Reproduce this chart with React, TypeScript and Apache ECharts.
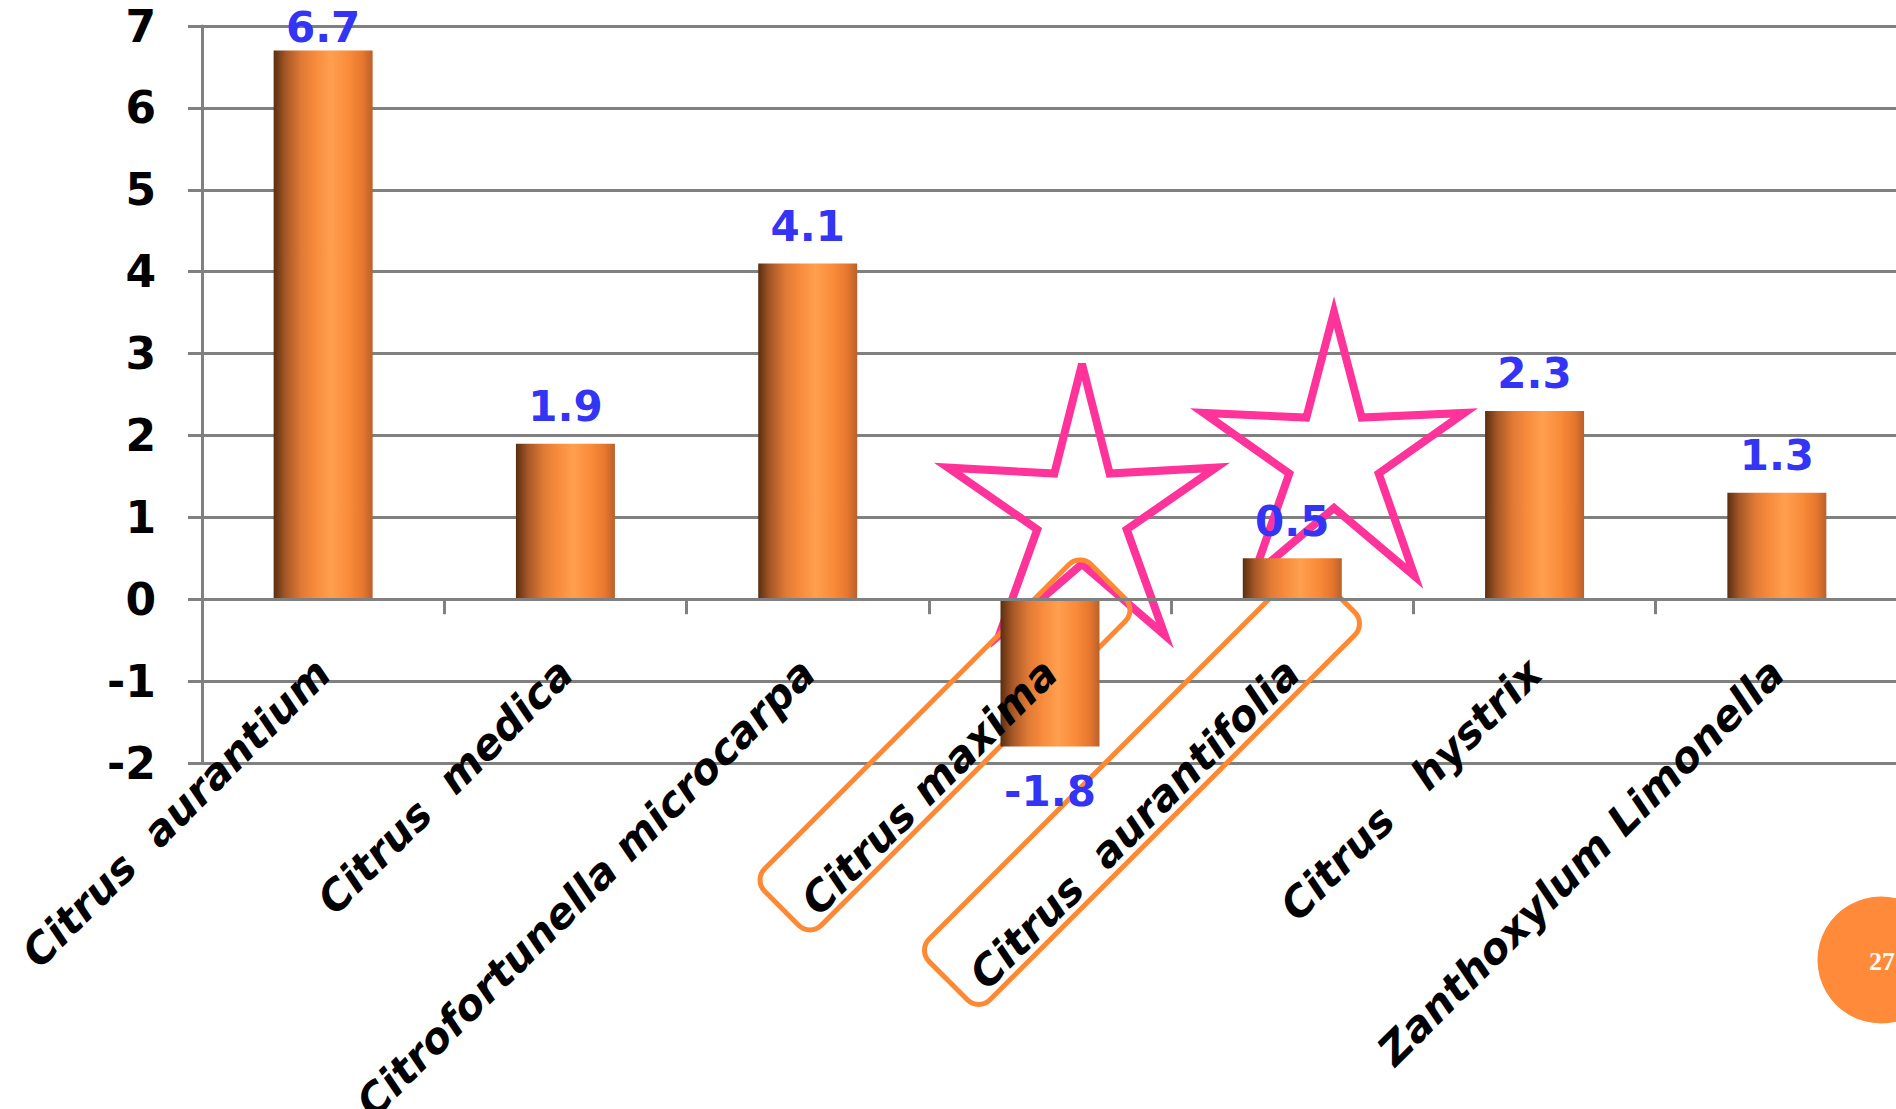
import React, { useEffect, useRef } from "react";
import * as echarts from "echarts";

const categories = [
  "Citrus  aurantium",
  "Citrus  medica",
  "Citrofortunella microcarpa",
  "Citrus maxima",
  "Citrus  aurantifolia",
  "Citrus   hystrix",
  "Zanthoxylum Limonella",
];
const values = [6.7, 1.9, 4.1, -1.8, 0.5, 2.3, 1.3];
const yMin = -2;
const yMax = 7;
const yStep = 1;
const pageNumber = "27";

function starPoints(cx: number, cy: number, R: number, r: number, sx: number) {
  const pts: number[][] = [];
  for (let k = 0; k < 10; k++) {
    const a = ((-90 + k * 36) * Math.PI) / 180;
    const rad = k % 2 === 0 ? R : r;
    pts.push([cx + sx * rad * Math.cos(a), cy + rad * Math.sin(a)]);
  }
  return pts;
}

export default function App() {
  const ref = useRef<HTMLDivElement>(null);
  useEffect(() => {
    const chart = echarts.init(ref.current as HTMLDivElement, null, { renderer: "svg" });
    const barGradient = new echarts.graphic.LinearGradient(0, 0, 1, 0, [
      { offset: 0, color: "#5a2e10" },
      { offset: 0.12, color: "#a55727" },
      { offset: 0.28, color: "#e07a35" },
      { offset: 0.42, color: "#f78b3c" },
      { offset: 0.58, color: "#ff9f4f" },
      { offset: 0.76, color: "#f98b3a" },
      { offset: 0.9, color: "#e7772e" },
      { offset: 1, color: "#b9612b" },
    ]);
    const grey = "#808080";
    const option: any = {
      animation: false,
      backgroundColor: "#ffffff",
      grid: {
        left: 202,
        top: 26,
        width: 1696,
        height: 737,
        containLabel: false,
        outerBoundsMode: "none",
      },
      xAxis: {
        type: "category",
        data: categories,
        z: 3,
        axisLine: { onZero: true, lineStyle: { color: grey, width: 3 } },
        axisTick: { show: true, length: 15, lineStyle: { color: grey, width: 3 } },
        axisLabel: {
          interval: 0,
          rotate: 45,
          margin: -97,
          padding: [0, 0, 24, 0],
          fontSize: 42,
          fontWeight: "bold",
          fontStyle: "oblique",
          fontFamily: "DejaVu Sans",
          color: "#000000",
          hideOverlap: false,
        },
        splitLine: { show: false },
      },
      yAxis: {
        type: "value",
        min: yMin,
        max: yMax,
        interval: yStep,
        axisLine: { show: true, onZero: false, lineStyle: { color: grey, width: 3 } },
        axisTick: { show: true, length: 14, lineStyle: { color: grey, width: 3 } },
        axisLabel: {
          margin: 46,
          fontSize: 44,
          fontWeight: "bold",
          fontFamily: "DejaVu Sans",
          color: "#000000",
        },
        splitLine: { show: true, lineStyle: { color: grey, width: 3 } },
      },
      series: [
        {
          type: "bar",
          barWidth: 99,
          z: 2,
          itemStyle: { color: barGradient },
          label: {
            show: true,
            position: "top",
            distance: 16,
            fontSize: 42,
            fontWeight: "bold",
            fontFamily: "DejaVu Sans",
            color: "#3434F5",
          },
          data: values.map((v) => {
            const item: any = { value: v };
            if (v < 0) item.label = { position: "bottom", distance: 24 };
            else if (v > yMax - 0.6) item.label = { distance: 2 };
            return item;
          }),
        },
      ],
      graphic: [
        {
          type: "polygon",
          z: 1,
          shape: { points: starPoints(1082, 514, 150, 50, 0.94) },
          style: { fill: "none", stroke: "#FF3399", lineWidth: 8, lineJoin: "miter" },
        },
        {
          type: "polygon",
          z: 1,
          shape: { points: starPoints(1334, 458, 146, 50, 0.94) },
          style: { fill: "none", stroke: "#FF3399", lineWidth: 8, lineJoin: "miter" },
        },
        {
          type: "rect",
          z: 1,
          x: 945,
          y: 745,
          rotation: Math.PI / 4,
          shape: { x: -231, y: -40, width: 462, height: 80, r: 16 },
          style: { fill: "none", stroke: "#FF8833", lineWidth: 5 },
        },
        {
          type: "rect",
          z: 1,
          x: 1142,
          y: 787,
          rotation: Math.PI / 4,
          shape: { x: -274, y: -43, width: 548, height: 86, r: 16 },
          style: { fill: "none", stroke: "#FF8833", lineWidth: 5 },
        },
        {
          type: "circle",
          z: 10,
          shape: { cx: 1881, cy: 960, r: 63.5 },
          style: { fill: "#FF8A3A" },
        },
        {
          type: "text",
          z: 11,
          x: 1869,
          y: 961,
          style: {
            text: pageNumber,
            fill: "#ffffff",
            font: "bold 26px 'Liberation Serif', serif",
            align: "left",
            verticalAlign: "middle",
          },
        },
      ],
    };
    chart.setOption(option);
    return () => chart.dispose();
  }, []);
  return (
    <div
      ref={ref}
      style={{ position: "absolute", left: 0, top: 0, width: 1896, height: 1109, background: "#fff" }}
    />
  );
}
